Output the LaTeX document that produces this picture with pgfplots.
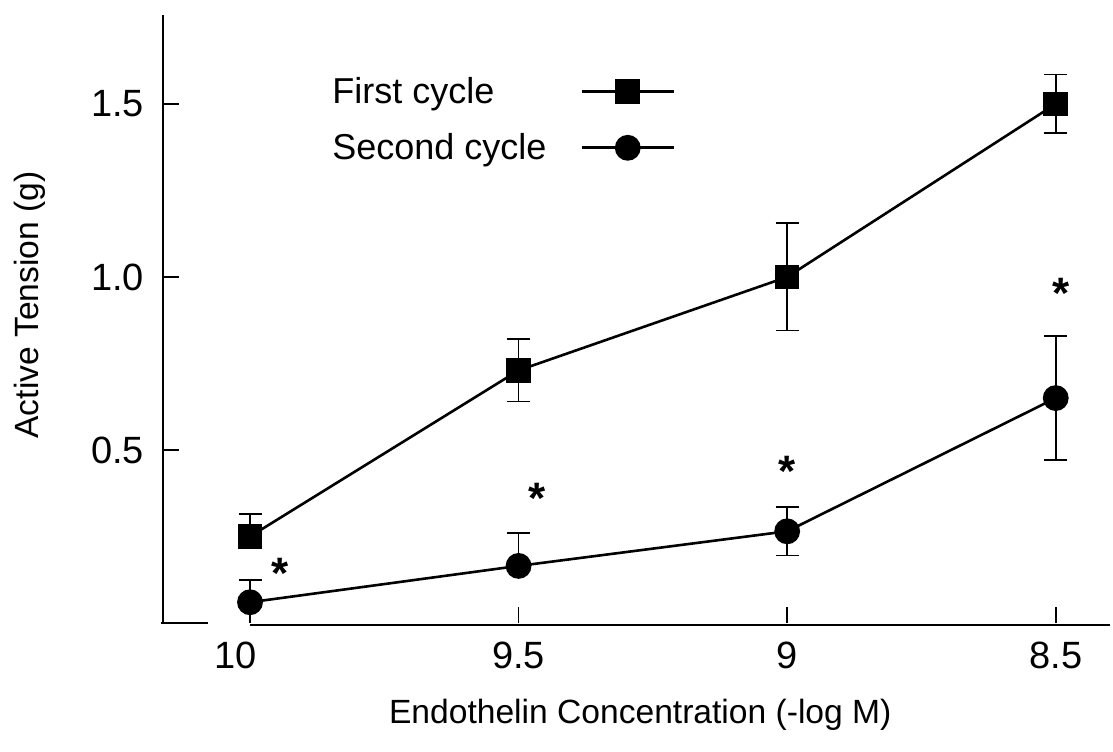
\documentclass[border=0pt]{standalone}
\usepackage{fontspec}
\setmainfont{Liberation Sans}
\usepackage{pgfplots}
\pgfplotsset{compat=1.18}
\tikzset{asterisk/.style={anchor=base, inner sep=0pt, yshift=-12.7pt, font=\fontsize{22}{24}\selectfont\bfseries}}
\begin{document}
\begin{tikzpicture}
\begin{axis}[
  scale only axis,
  width=473.5pt, height=304pt,
  x dir=reverse,
  xmin=8.399, xmax=10.162,
  ymin=0, ymax=1.757,
  axis x line=bottom, axis y line=left,
  axis line style={-, line width=1.2pt},
  x axis line style={draw=none},
  xtick={10,9.5,9,8.5},
  xticklabels={10\hspace*{14pt},9.5,9,8.5},
  ytick={0.5,1.0,1.5},
  yticklabels={0.5,1.0,1.5},
  tick align=inside,
  major tick length=8pt,
  tick style={line width=0.9pt, black},
  ticklabel style={font=\fontsize{19}{22}\selectfont},
  xticklabel style={yshift=-6pt},
  yticklabel style={xshift=-6pt},
  clip=false,
  xlabel={Endothelin Concentration (-log M)},
  ylabel={Active Tension (g)},
  label style={font=\fontsize{16.8}{20}\selectfont},
  xlabel style={at={(axis description cs:0.504,-0.151)}, anchor=center},
  ylabel style={at={(axis description cs:-0.1404,0.523)}, anchor=center},
  legend style={draw=none, fill=none, at={(axis description cs:0.1742,0.905)}, anchor=north west,
    font=\fontsize{18}{20}\selectfont, cells={anchor=west}, row sep=9.5pt, column sep=15pt, inner sep=0pt},
  legend plot pos=right,
  legend image code/.code={\draw[#1, mark repeat=2, mark phase=2] plot coordinates {(0pt,0pt)(23pt,0pt)(46pt,0pt)};},
  error bars/error bar style={line width=0.9pt, black, solid},
  error bars/error mark options={rotate=90, mark size=5.75pt, line width=0.9pt, black},
]
\addplot[black, line width=1.3pt, mark=square*, mark size=5.5pt, mark options={solid, fill=black},
  error bars/.cd, y dir=both, y explicit]
  coordinates {
    (10,0.25) += (0,0.065) -= (0,0)
    (9.5,0.73) +- (0,0.09)
    (9,1.0) +- (0,0.155)
    (8.5,1.5) +- (0,0.085)
  };
\addlegendentry{First cycle}
\addplot[black, line width=1.3pt, mark=*, mark size=5.8pt, mark options={solid, fill=black},
  error bars/.cd, y dir=both, y explicit]
  coordinates {
    (10,0.06) += (0,0.065) -= (0,0)
    (9.5,0.165) += (0,0.095) -= (0,0)
    (9,0.265) +- (0,0.07)
    (8.5,0.65) +- (0,0.18)
  };
\addlegendentry{Second cycle}
\draw[line width=1.2pt] (axis cs:10.165,0) -- (axis cs:10.078,0);
\draw[line width=1.2pt] (axis cs:10,-0.006) -- (axis cs:8.399,-0.006);
\node[asterisk] at (axis cs:9.944,0.173) {*};
\node[asterisk] at (axis cs:9.466,0.39) {*};
\node[asterisk] at (axis cs:9.0,0.468) {*};
\node[asterisk] at (axis cs:8.49,0.983) {*};
\end{axis}
\pgfresetboundingbox
\useasboundingbox (-81.5pt,-64pt) rectangle (475pt,311.5pt);
\end{tikzpicture}
\end{document}
